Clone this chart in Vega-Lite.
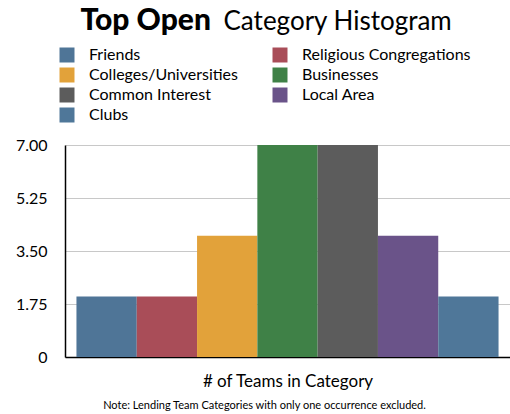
{
  "$schema": "https://vega.github.io/schema/vega-lite/v6.json",
  "width": 445,
  "height": 212,
  "autosize": {"type": "none"},
  "padding": {"left": 65, "top": 145, "right": 0, "bottom": 57},
  "background": "white",
  "config": {
    "font": "Lato",
    "view": {"stroke": null}
  },
  "data": {
    "values": [
      {"category": "Friends", "teams": 2},
      {"category": "Religious Congregations", "teams": 2},
      {"category": "Colleges/Universities", "teams": 4},
      {"category": "Businesses", "teams": 7},
      {"category": "Common Interest", "teams": 7},
      {"category": "Local Area", "teams": 4},
      {"category": "Clubs", "teams": 2}
    ]
  },
  "resolve": {"axis": {"x": "independent", "y": "independent"}},
  "layer": [
    {
      "mark": {"type": "bar"},
      "encoding": {
        "x": {
          "field": "category",
          "type": "nominal",
          "sort": null,
          "scale": {"paddingInner": 0, "paddingOuter": 0.19},
          "axis": {
            "orient": "bottom",
            "labels": false,
            "ticks": false,
            "domainColor": "#000000",
            "domainWidth": 1.5,
            "title": "# of Teams in Category",
            "titleFont": "Lato",
            "titleFontSize": 17,
            "titleFontWeight": "normal",
            "titleColor": "#000000",
            "titleBaseline": "alphabetic",
            "titleY": 29
          }
        },
        "y": {
          "field": "teams",
          "type": "quantitative",
          "scale": {"domain": [0, 7], "nice": false},
          "axis": {
            "values": [0, 1.75, 3.5, 5.25, 7],
            "labelExpr": "datum.value == 0 ? '0' : format(datum.value, '.2f')",
            "labelFont": "Lato",
            "labelFontSize": 16,
            "labelColor": "#000000",
            "labelPadding": 18,
            "ticks": false,
            "domainColor": "#000000",
            "domainWidth": 1.5,
            "gridColor": "#c8c8c8",
            "gridWidth": 1,
            "title": "Category Histogram",
            "titleFont": "Lato",
            "titleFontSize": 26,
            "titleFontWeight": "normal",
            "titleColor": "#000000",
            "titleAngle": 0,
            "titleAlign": "left",
            "titleBaseline": "alphabetic",
            "titleX": 158,
            "titleY": -116
          }
        },
        "color": {
          "field": "category",
          "type": "nominal",
          "scale": {
            "domain": ["Friends", "Colleges/Universities", "Common Interest", "Clubs", "Religious Congregations", "Businesses", "Local Area"],
            "range": ["#4f7597", "#e2a23a", "#5c5c5c", "#4f7799", "#a94d58", "#3f8147", "#6a5389"]
          },
          "legend": {
            "orient": "none",
            "legendX": -6,
            "legendY": -98,
            "title": null,
            "columns": 2,
            "columnPadding": 34,
            "rowPadding": 4,
            "symbolType": "square",
            "symbolSize": 225,
            "symbolStrokeWidth": 0,
            "symbolOpacity": 1,
            "labelFont": "Lato",
            "labelFontSize": 16,
            "labelColor": "#000000",
            "labelOffset": 14,
            "labelLimit": 300
          }
        }
      }
    },
    {
      "mark": {"type": "point", "opacity": 0},
      "encoding": {
        "x": {
          "field": "category",
          "type": "nominal",
          "sort": null,
          "axis": {
            "orient": "top",
            "labels": false,
            "ticks": false,
            "domain": false,
            "grid": false,
            "title": "Top Open",
            "titleFont": "Lato",
            "titleFontSize": 30,
            "titleFontWeight": 900,
            "titleColor": "#000000",
            "titleAlign": "left",
            "titleBaseline": "alphabetic",
            "titleX": 15,
            "titleY": -116
          }
        },
        "y": {
          "field": "teams",
          "type": "quantitative",
          "axis": {
            "orient": "right",
            "labels": false,
            "ticks": false,
            "domain": false,
            "grid": false,
            "title": "Note: Lending Team Categories with only one occurrence excluded.",
            "titleFont": "Lato",
            "titleFontSize": 11,
            "titleFontWeight": "normal",
            "titleColor": "#000000",
            "titleAngle": 0,
            "titleAlign": "center",
            "titleBaseline": "alphabetic",
            "titleX": -246,
            "titleY": 263
          }
        }
      }
    }
  ]
}
